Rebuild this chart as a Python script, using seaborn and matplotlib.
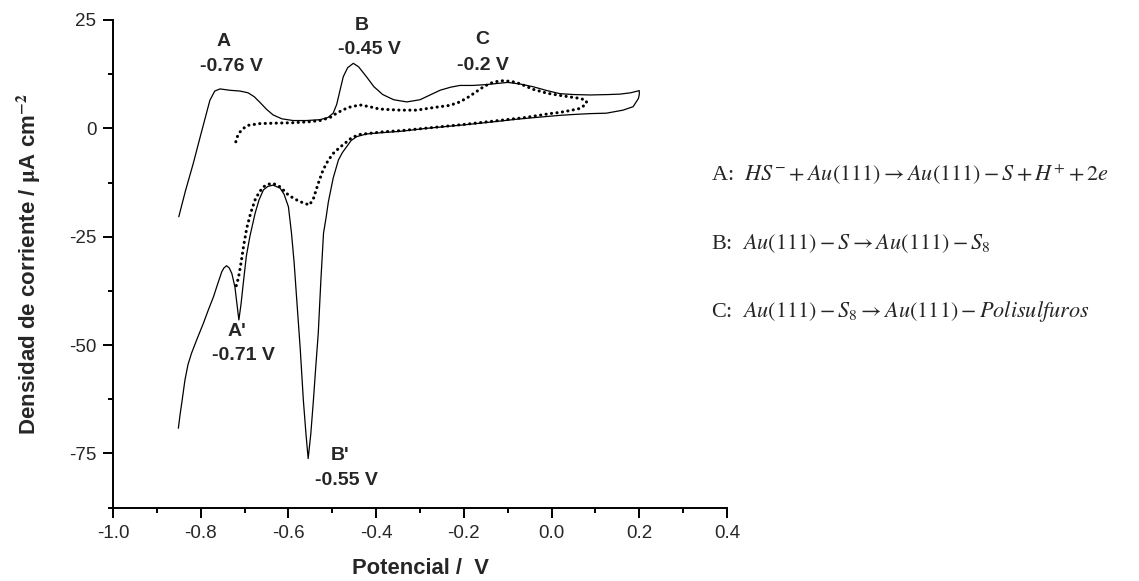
import matplotlib
matplotlib.use('Agg')
import matplotlib.pyplot as plt
import matplotlib.ticker as mticker
import pandas as pd
import seaborn as sns

# solid curve (voltammogram, first scan)
solid_v = [-0.850, -0.835, -0.817, -0.800, -0.779, -0.768, -0.756, -0.735, -0.710, -0.692,
           -0.678, -0.665, -0.650, -0.635, -0.615, -0.589, -0.560, -0.528, -0.510, -0.498,
           -0.490, -0.483, -0.475, -0.465, -0.452, -0.440, -0.422, -0.405, -0.385, -0.360,
           -0.330, -0.300, -0.275, -0.254, -0.230, -0.209, -0.180, -0.148, -0.120, -0.100,
           -0.070, -0.042, -0.010, 0.019, 0.050, 0.088, 0.130, 0.156, 0.180, 0.200,
           0.200, 0.198, 0.186, 0.163, 0.125, 0.088, 0.050, 0.019, -0.026, -0.080,
           -0.133, -0.200, -0.285, -0.346, -0.400, -0.422, -0.444, -0.457, -0.467, -0.477,
           -0.486, -0.498, -0.509, -0.514, -0.520, -0.526, -0.532, -0.538, -0.543, -0.549,
           -0.555, -0.560, -0.566, -0.573, -0.581, -0.587, -0.593, -0.600, -0.610, -0.619,
           -0.635, -0.647, -0.657, -0.667, -0.676, -0.688, -0.696, -0.703, -0.708, -0.713,
           -0.718, -0.722, -0.729, -0.735, -0.741, -0.747, -0.752, -0.761, -0.771, -0.783,
           -0.794, -0.808, -0.821, -0.829, -0.836, -0.842, -0.847, -0.851]
solid_i = [-20.4, -14.5, -8.1, -1.5, 6.5, 8.6, 9.1, 8.8, 8.6, 8.2,
           7.3, 6.0, 4.4, 3.1, 2.2, 1.8, 1.8, 2.0, 2.5, 3.5,
           5.5, 8.5, 11.9, 14.0, 15.0, 14.2, 11.9, 9.6, 7.8, 6.6,
           6.1, 6.6, 7.8, 8.8, 9.5, 9.9, 9.9, 10.1, 10.4, 10.6,
           10.2, 9.6, 8.7, 8.0, 7.8, 7.7, 7.8, 7.9, 8.2, 8.7,
           7.8, 6.9, 5.0, 4.2, 3.5, 3.4, 3.2, 3.0, 2.6, 2.1,
           1.5, 0.8, 0.0, -0.7, -1.1, -1.3, -1.9, -2.8, -4.2, -5.6,
           -7.3, -11.5, -17.0, -20.5, -24.2, -35.0, -47.3, -55.5, -62.7, -70.5,
           -76.2, -70.5, -62.7, -51.0, -39.6, -31.0, -24.2, -18.1, -15.2, -13.8,
           -13.1, -13.4, -14.2, -16.5, -19.6, -25.0, -29.5, -35.8, -40.5, -44.2,
           -40.0, -36.6, -33.5, -32.2, -31.7, -32.2, -33.1, -35.8, -38.9, -42.0,
           -45.0, -48.5, -51.9, -54.5, -58.1, -62.5, -66.0, -69.2]

# dotted curve
dot_v = [-0.720, -0.716, -0.710, -0.700, -0.692, -0.665, -0.630, -0.589, -0.555, -0.528,
         -0.505, -0.490, -0.475, -0.460, -0.437, -0.415, -0.399, -0.384, -0.346, -0.308,
         -0.262, -0.232, -0.209, -0.190, -0.171, -0.155, -0.140, -0.125, -0.110, -0.090,
         -0.072, -0.042, -0.010, 0.019, 0.045, 0.065, 0.078, 0.080, 0.076, 0.065,
         0.042, 0.020, -0.004, -0.060, -0.130, -0.200, -0.280, -0.340, -0.384, -0.437,
         -0.455, -0.467, -0.483, -0.498, -0.510, -0.521, -0.532, -0.543, -0.552, -0.560,
         -0.574, -0.587, -0.600, -0.619, -0.635, -0.647, -0.657, -0.667, -0.676, -0.686,
         -0.695, -0.702, -0.708, -0.714, -0.720]
dot_i = [-3.1, -1.8, -0.8, 0.2, 0.7, 1.1, 1.2, 1.3, 1.5, 1.8,
         2.5, 3.5, 4.3, 4.9, 5.4, 5.0, 4.6, 4.4, 4.2, 4.2,
         4.9, 5.3, 6.1, 7.2, 8.5, 9.6, 10.4, 10.8, 11.0, 10.8,
         10.3, 9.0, 8.1, 7.6, 7.2, 6.9, 6.5, 6.0, 5.4, 4.6,
         4.1, 3.7, 3.4, 2.5, 1.7, 0.9, 0.1, -0.5, -0.8, -1.4,
         -2.1, -3.1, -4.4, -5.8, -7.5, -9.6, -12.7, -16.2, -17.7, -17.4,
         -16.9, -16.2, -15.4, -13.5, -12.7, -12.9, -13.5, -14.8, -16.5, -19.5,
         -23.0, -27.0, -31.0, -34.5, -36.7]

peak_names = ['A', 'B', 'C', "A'", "B'"]
peak_labels = ['-0.76 V', '-0.45 V', '-0.2 V', '-0.71 V', '-0.55 V']
name_pos = [(-0.747, 20.0), (-0.433, 23.8), (-0.159, 20.5), (-0.718, -46.9), (-0.482, -75.4)]
label_pos = [(-0.729, 14.2), (-0.416, 18.1), (-0.156, 14.6), (-0.703, -52.3), (-0.467, -81.2)]

reactions = [
    r'A:  $HS^{-}+Au(111)\rightarrow Au(111)-S+H^{+}+2e$',
    r'B:  $Au(111)-S\rightarrow Au(111)-S_{8}$',
    r'C:  $Au(111)-S_{8}\rightarrow Au(111)-Polisulfuros$',
]

sns.set_style('ticks')
plt.rcParams['font.family'] = ['Liberation Sans', 'DejaVu Sans']
plt.rcParams['mathtext.fontset'] = 'stix'

fig = plt.figure(figsize=(11.39, 5.81), dpi=100)
ax = fig.add_axes([113 / 1139, 1 - 508 / 581, 614 / 1139, 488 / 581])

df_solid = pd.DataFrame({'v': solid_v, 'i': solid_i})
df_dot = pd.DataFrame({'v': dot_v, 'i': dot_i})
sns.lineplot(data=df_solid, x='v', y='i', sort=False, estimator=None, color='black', lw=0.9, ax=ax)
line = sns.lineplot(data=df_dot, x='v', y='i', sort=False, estimator=None, color='black', lw=2.2, ax=ax).lines[-1]
line.set_linestyle((0, (0.05, 1.75)))
line.set_dash_capstyle('round')

ax.set_xlim(-1.0, 0.4)
ax.set_ylim(-87.6, 25)
ax.xaxis.set_major_locator(mticker.MultipleLocator(0.2))
ax.xaxis.set_minor_locator(mticker.MultipleLocator(0.1))
ax.yaxis.set_major_locator(mticker.MultipleLocator(25))
ax.yaxis.set_minor_locator(mticker.MultipleLocator(12.5))
ax.xaxis.set_major_formatter(mticker.FormatStrFormatter('%.1f'))
ax.yaxis.set_major_formatter(mticker.FormatStrFormatter('%d'))
ax.tick_params(which='major', direction='out', length=7, width=1.4, labelsize=13.5, pad=5, color='black')
ax.tick_params(which='minor', direction='out', length=3.5, width=1.4, color='black')
for s in ['top', 'right']:
    ax.spines[s].set_visible(False)
for s in ['left', 'bottom']:
    ax.spines[s].set_linewidth(1.4)
    ax.spines[s].set_color('black')

ax.set_xlabel('Potencial /  V', fontsize=15.8, fontweight='bold', labelpad=12)
ax.set_ylabel(r'Densidad de corriente / $\mathbf{\mu}$A cm$^{\mathbf{-2}}$', fontsize=16, fontweight='bold', labelpad=19)

for n, l, npos, lpos in zip(peak_names, peak_labels, name_pos, label_pos):
    ax.text(npos[0], npos[1], n, fontsize=14, fontweight='bold', ha='center', va='center')
    ax.text(lpos[0], lpos[1], l, fontsize=14, fontweight='bold', ha='center', va='center')

for k, r in enumerate(reactions):
    fig.text(711 / 1139, 1 - (175 + 68.5 * k) / 581, r, fontsize=16,
             family='Liberation Serif', ha='left', va='center')

fig.savefig('out.png', dpi=100)
plt.close(fig)
